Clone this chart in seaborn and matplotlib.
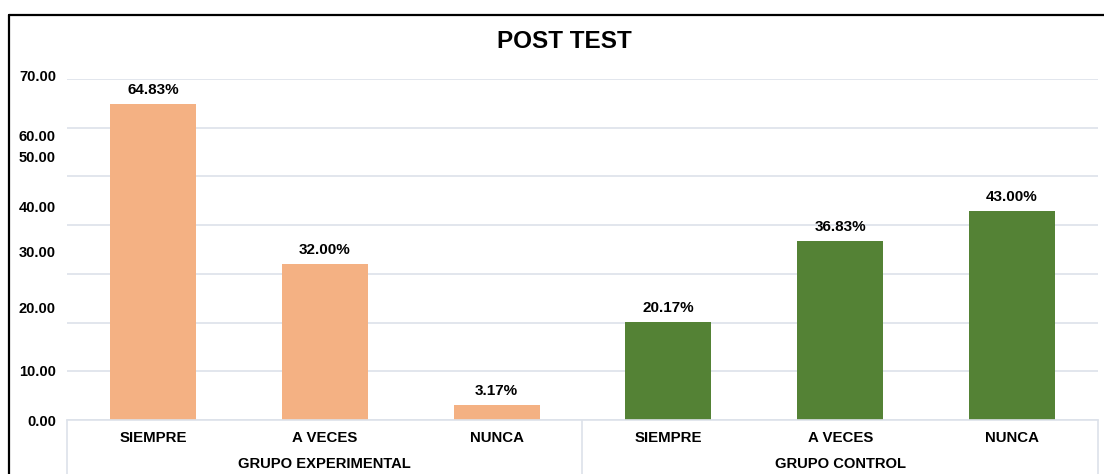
import numpy as np
import pandas as pd
import matplotlib.pyplot as plt
import matplotlib.transforms as mtransforms
from matplotlib.lines import Line2D
import seaborn as sns

grupos=['GRUPO EXPERIMENTAL','GRUPO CONTROL']
respuestas=['SIEMPRE','A VECES','NUNCA']
experimental=[64.83,32.00,3.17]
control=[20.17,36.83,43.00]
yticks=[0,10,20,30,40,50,60,70]
# the reference draws its y labels a bit off the gridlines, offsets in px
ylabel_shift=[0,1,15,22,19,20,-8,4]
colores={'GRUPO EXPERIMENTAL':'#F4B183','GRUPO CONTROL':'#548235'}

df=pd.DataFrame({
    'grupo':[grupos[0]]*3+[grupos[1]]*3,
    'respuesta':respuestas*2,
    'valor':experimental+control,
})
df['key']=df['grupo']+'_'+df['respuesta']

sns.set_style('white')
plt.rcParams['font.family']=['Liberation Sans','DejaVu Sans']
plt.rcParams['text.color']='black'
plt.rcParams['xtick.color']='black'
plt.rcParams['ytick.color']='black'

fig=plt.figure(figsize=(11.04,4.74),dpi=100)
ax=fig.add_axes([67/1104,1-420/474,(1098-67)/1104,(420-79)/474])

sns.barplot(data=df,x='key',y='valor',hue='grupo',palette=colores,dodge=False,
            width=0.5,legend=False,ax=ax,saturation=1,edgecolor='none',linewidth=0)

for c in ax.containers:
    ax.bar_label(c,fmt='%.2f%%',padding=5,fontsize=11,fontweight='bold',color='black')

ax.set_xlim(-0.5,5.5)
ax.set_ylim(0,70)
ax.set_yticks(yticks)
ax.set_yticklabels(['%.2f'%v for v in yticks],fontsize=10.5,fontweight='bold')
ax.set_xticks(range(len(df)))
ax.set_xticklabels(df['respuesta'],fontsize=10.8,fontweight='bold')
ax.tick_params(axis='both',length=0,colors='black')
ax.tick_params(axis='y',pad=8)
ax.tick_params(axis='x',pad=8)
ax.set_xlabel('')
ax.set_ylabel('')
ax.yaxis.grid(True,color='#dde2ea',linewidth=1.2)
ax.set_axisbelow(True)
for s in ['top','right','left']:
    ax.spines[s].set_visible(False)
ax.spines['bottom'].set_color('#dde2ea')
ax.spines['bottom'].set_linewidth(1.2)

for lab,dy in zip(ax.get_yticklabels(),ylabel_shift):
    lab.set_transform(lab.get_transform()+mtransforms.ScaledTranslation(0,dy/100,fig.dpi_scale_trans))

trans=mtransforms.blended_transform_factory(ax.transData,ax.transAxes)
for i,g in enumerate(grupos):
    ax.text(3*i+1,-0.13,g,transform=trans,ha='center',va='center',fontsize=10.6,fontweight='bold',color='black')
for xv in [-0.5,2.5,5.5]:
    ax.plot([xv,xv],[0,-0.2],transform=trans,color='#dde2ea',linewidth=1.2,clip_on=False)

fig.text(564/1104,1-41/474,'POST TEST',ha='center',va='center',fontsize=17.5,fontweight='bold',color='black')

fig.add_artist(Line2D([9/1104,9/1104],[0,1-15/474],color='black',linewidth=1.6))
fig.add_artist(Line2D([9/1104,1],[1-15/474,1-15/474],color='black',linewidth=1.6))

plt.savefig('out.png',dpi=100)
